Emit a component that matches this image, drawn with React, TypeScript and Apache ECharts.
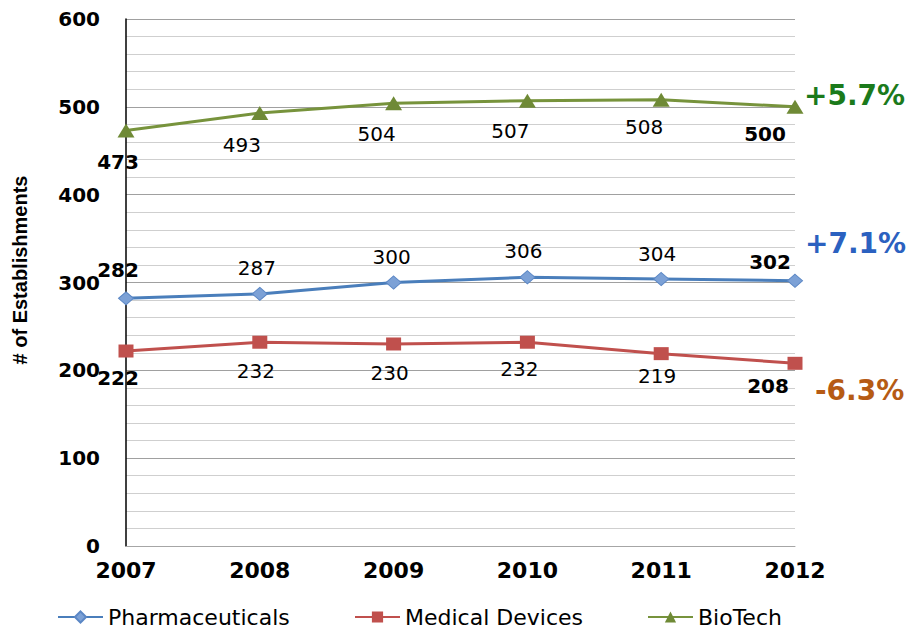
import React, { useEffect, useRef } from "react";
import * as echarts from "echarts";

const years = ["2007", "2008", "2009", "2010", "2011", "2012"];
const pharmaceuticals = [282, 287, 300, 306, 304, 302];
const medicalDevices = [222, 232, 230, 232, 219, 208];
const bioTech = [473, 493, 504, 507, 508, 500];
const changeLabels = { bioTech: "+5.7%", pharmaceuticals: "+7.1%", medicalDevices: "-6.3%" };

// label offsets (styling, not data)
const pharmaOffsets = [[-8, -28], [-3, -26], [-2, -26], [-4, -26], [-4, -25], [-25, -19]];
const medOffsets = [[-8, 27], [-4, 29], [-4, 29], [-8, 27], [-4, 22], [-27, 23]];
const bioOffsets = [[-8, 31], [-18, 32], [-17, 31], [-17, 30], [-17, 27], [-30, 27]];

const FONT = "DejaVu Sans";

function buildData(values: number[], offsets: number[][]) {
  return values.map((v, i) => ({
    value: v,
    label: {
      offset: offsets[i],
      fontWeight: i === 0 || i === values.length - 1 ? "bold" : "normal",
    },
  }));
}

export default function App() {
  const ref = useRef<HTMLDivElement>(null);
  useEffect(() => {
    if (!ref.current) return;
    const chart = echarts.init(ref.current, undefined, { renderer: "svg" });
    const labelBase = {
      show: true,
      position: "inside",
      color: "#000",
      fontFamily: FONT,
      fontSize: 20,
    };
    const legendText = { fontFamily: FONT, fontSize: 22, lineHeight: 22, color: "#000" };
    const legendBase = {
      top: 606,
      padding: 0,
      itemWidth: 45,
      itemHeight: 14,
      itemGap: 0,
      textStyle: legendText,
    };
    chart.setOption({
      animation: false,
      backgroundColor: "#fff",
      grid: { left: 126, right: 113, top: 19, bottom: 83 },
      xAxis: {
        type: "category",
        data: years,
        boundaryGap: false,
        axisLine: { lineStyle: { color: "#a6a6a6", width: 1 } },
        axisTick: { show: false },
        axisLabel: {
          fontFamily: FONT,
          fontWeight: "bold",
          fontSize: 22,
          color: "#000",
          margin: 13,
        },
      },
      yAxis: {
        type: "value",
        min: 0,
        max: 600,
        interval: 20,
        axisLine: { show: true, lineStyle: { color: "#000", width: 1.5 } },
        axisTick: { show: false },
        axisLabel: {
          fontFamily: FONT,
          fontWeight: "bold",
          fontSize: 20,
          color: "#000",
          margin: 26,
          formatter: (v: number) => (v % 100 === 0 ? String(v) : ""),
        },
        splitLine: {
          show: true,
          lineStyle: {
            color: ["#a0a0a0", "#cfcfcf", "#cfcfcf", "#cfcfcf", "#cfcfcf"],
            width: 1,
          },
        },
      },
      legend: [
        { ...legendBase, data: ["Pharmaceuticals"], left: 57 },
        { ...legendBase, data: ["Medical Devices"], left: 354 },
        { ...legendBase, data: ["BioTech"], left: 647 },
      ],
      series: [
        {
          name: "Pharmaceuticals",
          type: "line",
          data: buildData(pharmaceuticals, pharmaOffsets),
          symbol: "diamond",
          symbolSize: [15, 13],
          lineStyle: { color: "#4a7ebb", width: 3 },
          itemStyle: { color: "#7ca1d6", borderColor: "#5b87c5", borderWidth: 1 },
          label: labelBase,
          z: 3,
        },
        {
          name: "Medical Devices",
          type: "line",
          data: buildData(medicalDevices, medOffsets),
          symbol: "rect",
          symbolSize: [15, 13],
          lineStyle: { color: "#c0504d", width: 3 },
          itemStyle: { color: "#c0504d" },
          label: labelBase,
          z: 3,
        },
        {
          name: "BioTech",
          type: "line",
          data: buildData(bioTech, bioOffsets),
          symbol: "triangle",
          symbolSize: [17, 14],
          lineStyle: { color: "#77933c", width: 3 },
          itemStyle: { color: "#6f8a36" },
          label: labelBase,
          z: 3,
        },
      ],
      graphic: [
        {
          type: "text",
          x: 20,
          y: 270,
          rotation: Math.PI / 2,
          style: {
            text: "# of Establishments",
            fontFamily: "Liberation Sans",
            fontWeight: "bold",
            fontSize: 20,
            fill: "#000",
            align: "center",
            verticalAlign: "middle",
          },
        },
        {
          type: "text",
          x: 804,
          y: 95,
          style: {
            text: changeLabels.bioTech,
            fontFamily: FONT,
            fontWeight: "bold",
            fontSize: 28,
            fill: "#1b7a1b",
            align: "left",
            verticalAlign: "middle",
          },
        },
        {
          type: "text",
          x: 805,
          y: 243,
          style: {
            text: changeLabels.pharmaceuticals,
            fontFamily: FONT,
            fontWeight: "bold",
            fontSize: 28,
            fill: "#2b61c0",
            align: "left",
            verticalAlign: "middle",
          },
        },
        {
          type: "text",
          x: 815,
          y: 390,
          style: {
            text: changeLabels.medicalDevices,
            fontFamily: FONT,
            fontWeight: "bold",
            fontSize: 28,
            fill: "#b65b14",
            align: "left",
            verticalAlign: "middle",
          },
        },
      ],
    });
    return () => chart.dispose();
  }, []);
  return (
    <div
      ref={ref}
      style={{ width: 908, height: 629, position: "fixed", left: 0, top: 0 }}
    />
  );
}
